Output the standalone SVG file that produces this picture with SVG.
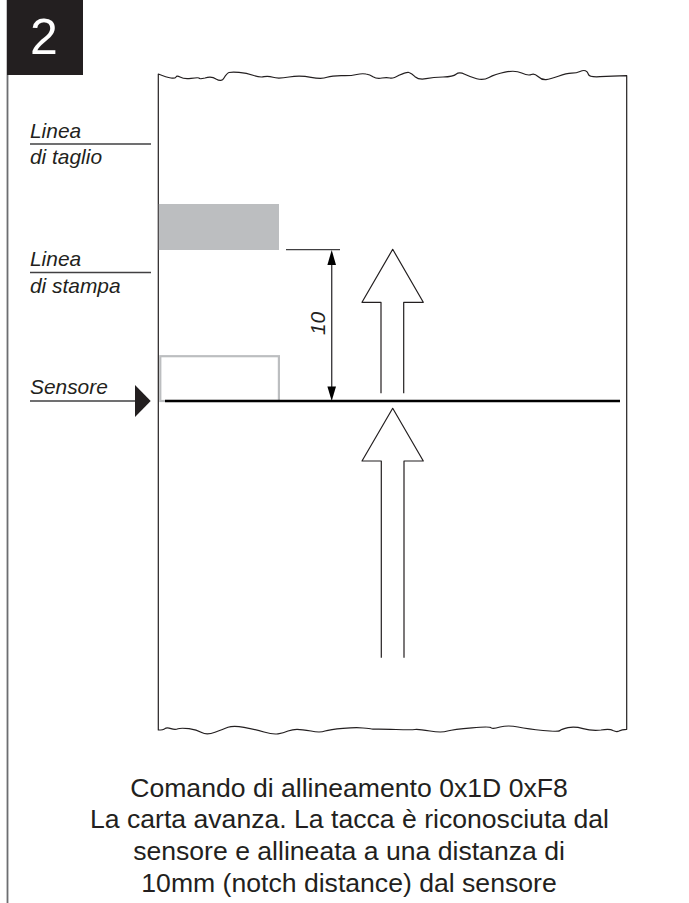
<svg xmlns="http://www.w3.org/2000/svg" width="689" height="903" viewBox="0 0 689 903">
<style>
text{font-family:"Liberation Sans",Arial,sans-serif;fill:#231f20}
.lbl{font-size:20.9px;font-style:italic}
.cap{font-size:26.6px;text-anchor:middle}
.thin{fill:none;stroke:#231f20;stroke-width:1.2;stroke-linejoin:round}
.rule{fill:none;stroke:#414042;stroke-width:1.4}
</style>
<rect width="689" height="903" fill="#fff"/>
<g id="frame">
<line x1="7.5" y1="0" x2="7.5" y2="903" stroke="#6d6e71" stroke-width="1.8"/>
</g>
<g id="badge">
<rect x="7" y="0" width="76" height="75" fill="#231f20"/>
<text x="30" y="54.3" font-size="50px" style="fill:#fff">2</text>
</g>
<g id="paper">
<path class="thin" d="M158.3 240V74Q166.7 77.3 171 78Q175 78.7 176 77Q176.7 75.3 180 77Q184.3 79.3 191 78.3Q198.3 77.3 199 78Q199.3 79.3 205 78Q211.7 76 216 79Q221.7 82.3 224 78Q226.7 73.3 229 72.5Q231.7 71.7 239 72.3Q246.7 73 253 75.3Q260 77.7 264 76.7Q268 75.7 273 77.3Q278 79 289 77Q300 75.3 311 77.3Q321.7 79.3 327 77.3Q333 75.3 345 75.7Q351.7 75.7 356.7 74.5Q361.7 73.3 366 74Q370 74.5 373 76.7Q376.7 79 382 78Q386.7 77.3 390 78Q392.7 79 399 75.3Q406.7 71.7 409 72.5Q411.7 73.3 415 76.7Q419 80 426 78.7Q433.3 77.3 443 77Q453.3 76.7 456 74.2Q459.3 71.7 464.7 74.2Q470 76.7 476.7 78.7Q483.3 80.7 489 77.5Q495 74.3 505 72.2Q515 70 521.7 73Q528.3 76 531.3 74.5Q534.3 73 538 76.5Q541.7 80 546 79.7Q550 79.3 558.3 76.3Q566.7 73.3 571.7 73.2Q576.7 73 580 71.5Q583.3 70 585.5 70.8Q587.7 71.7 588.5 74.5Q589.3 77.3 600 76.7Q611.7 76 626.7 75.7V729.3Q621.7 729.3 619 731Q616.7 732.3 613 730.5Q610 728.7 601 730Q591.7 731 583 728.6Q575 726.3 568 727.6Q561.7 729 560 730.5Q558.3 732 543 730.5Q528.3 729 518 727Q508.3 725 500 727Q492.7 729.3 491.3 727.8Q490 726.3 472 727.8Q453.3 729.3 447.5 731Q441.7 733 430 731Q418 729 415 729.5Q411.7 730 396 729.5Q380 729 375 729.2Q373.3 729.3 371.7 729Q370 728.7 363 728Q356.7 727.3 343 728.3Q330 729.3 325 731Q320 733 311 731Q301.7 729.3 297 729.3Q292.7 729.3 288 731Q283.3 733 278 733.8Q273.3 734.7 264 732Q255 729.3 244 727.3Q233.3 725.3 228 727.3Q223.3 729.3 215 732.3Q206.7 735.3 201.7 732.5Q196.7 729.7 189 728.7Q180.7 727.7 178 728.8Q175 730 171 728.6Q166.7 727.3 165 728.6Q163.3 730 158.3 730V240"/>
<rect x="158.8" y="204" width="120.2" height="46" fill="#bcbec0"/>
<rect x="160.3" y="356.2" width="118.6" height="44.8" fill="none" stroke="#bcbec0" stroke-width="2.2"/>
<line x1="165" y1="401" x2="620" y2="401" stroke="#000" stroke-width="2.4"/>
</g>
<g id="label-taglio">
<text class="lbl" x="30" y="137.5">Linea</text>
<line class="rule" x1="30" y1="144" x2="151" y2="144"/>
<text class="lbl" x="30" y="164">di taglio</text>
</g>
<g id="label-stampa">
<text class="lbl" x="30" y="266">Linea</text>
<line class="rule" x1="30" y1="272.5" x2="151" y2="272.5"/>
<text class="lbl" x="30" y="292.5">di stampa</text>
</g>
<g id="label-sensore">
<text class="lbl" x="30" y="393.5">Sensore</text>
<line class="rule" x1="30" y1="401" x2="136" y2="401"/>
<polygon points="135,385 150.7,401 135,417" fill="#231f20"/>
</g>
<g id="connectors">
<line class="rule" x1="286" y1="249.6" x2="340" y2="249.6"/>
<line class="rule" x1="331.7" y1="255" x2="331.7" y2="395"/>
<polygon points="331.7,250 336,265 327.4,265" fill="#000"/>
<polygon points="331.7,401 336,386.5 327.4,386.5" fill="#000"/>
<text class="lbl" transform="translate(325 335) rotate(-90)">10</text>
<path class="thin" d="M381 393.3V302.3H362L392.7 249.3L423.3 302.3H403.7V393.3"/>
<path class="thin" d="M381.3 657.7V461H362L392.7 408.3L423.3 461H404V657.7"/>
</g>
<g id="caption">
<text class="cap" x="349" y="796.7">Comando di allineamento 0x1D 0xF8</text>
<text class="cap" x="349.5" y="828">La carta avanza. La tacca è riconosciuta dal</text>
<text class="cap" x="349" y="860">sensore e allineata a una distanza di</text>
<text class="cap" x="349" y="891.5">10mm (notch distance) dal sensore</text>
</g>
</svg>
